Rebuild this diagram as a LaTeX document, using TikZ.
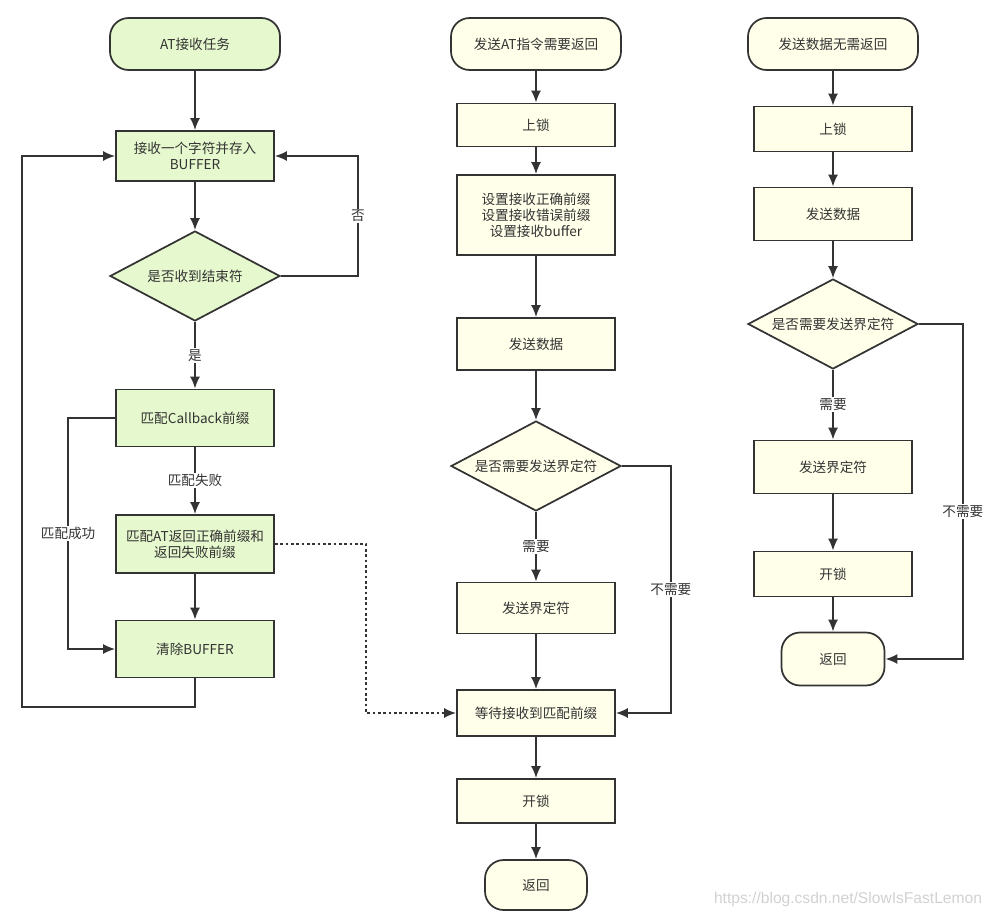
\documentclass[tikz,border=0pt]{standalone}
\usepackage{fontspec}
\setmainfont{Noto Sans CJK SC}
\newfontfamily\wmfont{Liberation Sans}
\usetikzlibrary{shapes.geometric,arrows.meta}
\definecolor{vert}{HTML}{E6F8CD}
\definecolor{creme}{HTML}{FFFFEA}
\definecolor{trait}{HTML}{333333}

\begin{document}
\begin{tikzpicture}[x=0.75pt,y=-0.75pt,font=\fontsize{10.2}{12}\selectfont]
 \tikzstyle{boite}=[rectangle,draw=trait,line width=1.3pt,text=trait,align=center,minimum width=118.5pt,inner sep=2pt]
 \tikzstyle{vboite}=[boite,fill=vert]
 \tikzstyle{jboite}=[boite,fill=creme]
 \tikzstyle{debut}=[rounded corners=14pt,minimum width=127.5pt,minimum height=39pt]
 \tikzstyle{losange}=[diamond,draw=trait,line width=1.3pt,text=trait,aspect=1.9,inner sep=0pt,minimum width=127.5pt,minimum height=67.5pt]
 \tikzstyle{fleche}=[-{Latex[length=9pt,width=7.5pt]},line width=1.3pt,draw=trait]
 \tikzstyle{etiq}=[fill=white,text=trait,inner sep=1pt]
 \useasboundingbox (0,0) rectangle (996,921);
 %
 % colonne gauche
 \node[vboite,debut] (s1) at (195,44) {AT接收任务};
 \node[vboite,minimum height=37.5pt] (b1) at (195,156) {接收一个字符并存入\\BUFFER};
 \node[losange,fill=vert] (d1) at (195,276) {是否收到结束符};
 \node[vboite,minimum height=42.75pt] (b2) at (195,418) {匹配Callback前缀};
 \node[vboite,minimum height=43.5pt] (b3) at (195,544) {匹配AT返回正确前缀和\\返回失败前缀};
 \node[vboite,minimum height=42.75pt] (b4) at (195,649) {清除BUFFER};
 %
 % colonne du milieu
 \node[jboite,debut] (s2) at (536,44) {发送AT指令需要返回};
 \node[jboite,minimum height=32.25pt] (m1) at (536,125) {上锁};
 \node[jboite,minimum height=60pt] (m2) at (536,215) {设置接收正确前缀\\设置接收错误前缀\\设置接收buffer};
 \node[jboite,minimum height=39pt] (m3) at (536,344) {发送数据};
 \node[losange,fill=creme] (md) at (536,466) {是否需要发送界定符};
 \node[jboite,minimum height=38.25pt] (m4) at (536,608) {发送界定符};
 \node[jboite,minimum height=34.5pt] (m5) at (536,713) {等待接收到匹配前缀};
 \node[jboite,minimum height=33pt] (m6) at (536,801) {开锁};
 \node[jboite,debut,minimum width=76.5pt,minimum height=37.5pt] (e2) at (536,885) {返回};
 %
 % colonne droite
 \node[jboite,debut] (s3) at (833,44) {发送数据无需返回};
 \node[jboite,minimum height=33.75pt] (r1) at (833,129) {上锁};
 \node[jboite,minimum height=39.75pt] (r2) at (833,214) {发送数据};
 \node[losange,fill=creme] (rd) at (833,324) {是否需要发送界定符};
 \node[jboite,minimum height=39.75pt] (r3) at (833,467) {发送界定符};
 \node[jboite,minimum height=33.75pt] (r4) at (833,574) {开锁};
 \node[jboite,debut,minimum width=77.25pt,minimum height=39.75pt] (e3) at (833,659) {返回};
 %
 \node[text=black!18,font=\wmfont\fontsize{11.7}{13}\selectfont] (wm) at (848,899) {https://blog.csdn.net/SlowIsFastLemon};
 %
 \draw[fleche] (s1)--(b1);
 \draw[fleche] (b1)--(d1);
 \draw[fleche] (d1)-- node[etiq]{是} (b2);
 \draw[fleche] (b2)-- node[etiq]{匹配失败} (b3);
 \draw[fleche] (b3)--(b4);
 \draw[fleche] (d1.east) -- ++(77,0) |- node[etiq,pos=0.25]{否} (b1.east);
 \draw[fleche] (b2.west) -- ++(-47,0) |- node[etiq,pos=0.25]{匹配成功} (b4.west);
 \draw[fleche] (b4.south) |- (22,707) |- (b1.west);
 \draw[fleche,dash pattern=on 2pt off 2pt] (b3.east) -- ++(91,0) |- (m5.west);
 %
 \draw[fleche] (s2)--(m1);
 \draw[fleche] (m1)--(m2);
 \draw[fleche] (m2)--(m3);
 \draw[fleche] (m3)--(md);
 \draw[fleche] (md)-- node[etiq]{需要} (m4);
 \draw[fleche] (m4)--(m5);
 \draw[fleche] (md.east) -- ++(49,0) |- node[etiq,pos=0.25]{不需要} (m5.east);
 \draw[fleche] (m5)--(m6);
 \draw[fleche] (m6)--(e2);
 %
 \draw[fleche] (s3)--(r1);
 \draw[fleche] (r1)--(r2);
 \draw[fleche] (r2)--(rd);
 \draw[fleche] (rd)-- node[etiq]{需要} (r3);
 \draw[fleche] (r3)--(r4);
 \draw[fleche] (r4)--(e3);
 \draw[fleche] (rd.east) -- ++(44,0) |- node[etiq,pos=0.28]{不需要} (e3.east);
\end{tikzpicture}
\end{document}
